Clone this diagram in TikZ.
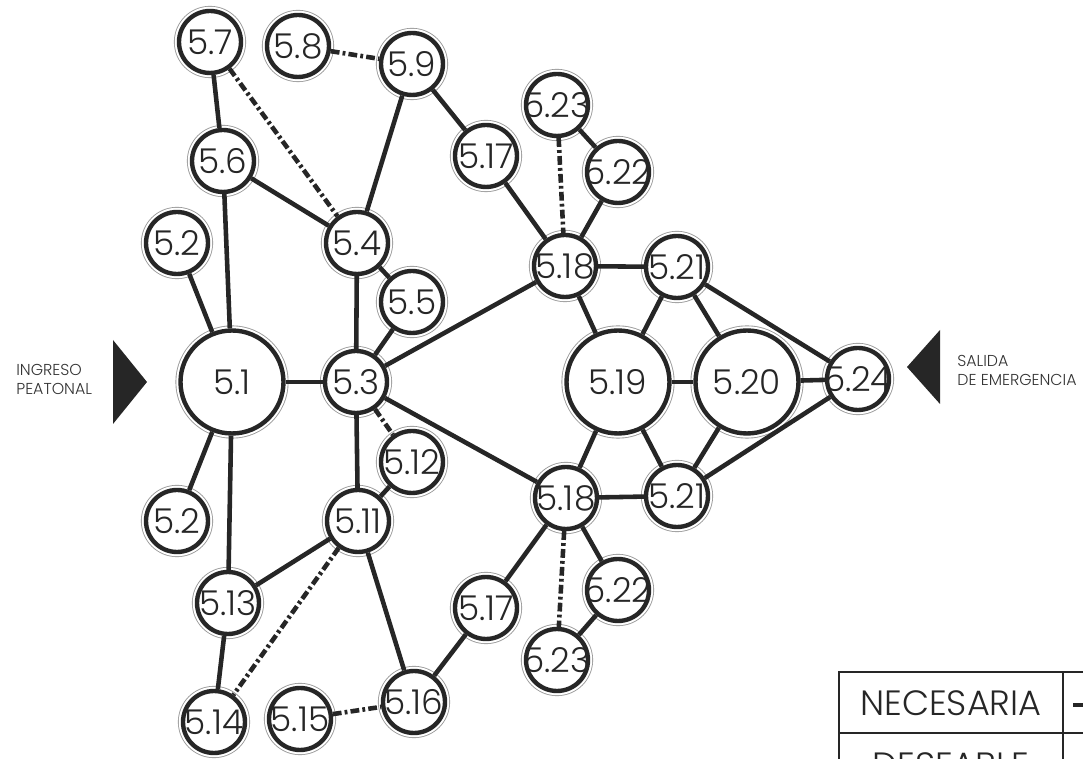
\documentclass[tikz,border=0pt]{standalone}
\usepackage{fontspec}
\setmainfont{Poppins Light}
\usetikzlibrary{positioning}
\tikzset{
  space/.style={circle, draw=black!85, line width=2.5pt, fill=white, inner sep=0pt,
                minimum size=1.24cm, text=black!85, font=\fontsize{19.5}{21}\selectfont,
                preaction={draw=black!40, line width=5.8pt},
                preaction={draw=white, line width=4.8pt}},
  bigspace/.style={space, minimum size=2.06cm},
  link/.style={draw=black!85, line width=2.6pt},
  optlink/.style={link, dash pattern=on 5pt off 1.8pt on 1.6pt off 1.8pt},
  access/.style={align=left, text=black!80, font=\fontsize{9}{10.8}\selectfont, inner sep=0pt},
  legtext/.style={text=black!85, font=\fontsize{20}{22}\selectfont, inner sep=0pt},
}
\newcommand{\zw}[1]{\makebox[0pt]{#1}}

\begin{document}
\begin{tikzpicture}[x=0.02cm, y=-0.02cm]
  \useasboundingbox (0,0) rectangle (1083,759);
  \clip (0,0) rectangle (1083,759);

  % Access arrows
  \fill[black!85] (113,340) -- (147,382) -- (113,424) -- cycle;
  \node[access, anchor=west] (ingreso) at (16,379) {INGRESO\\PEATONAL};
  \fill[black!85] (940,330) -- (907,367) -- (940,404) -- cycle;
  \node[access, anchor=west] (salida) at (957,370) {SALIDA\\DE EMERGENCIA};

  % Left group
  \node[bigspace] (n51) at (232,382) {\zw{5.1}};
  \node[space] (n52a) at (177,243) {\zw{5.2}};
  \node[space] (n52b) at (177,521) {\zw{5.2}};
  \node[space] (n53) at (356,382) {\zw{5.3}};
  \node[space] (n54) at (357,243) {\zw{5.4}};
  \node[space] (n55) at (412,302) {\zw{5.5}};
  \node[space] (n56) at (223,161) {\zw{5.6}};
  \node[space] (n57) at (210,42) {\zw{5.7}};
  \node[space] (n58) at (298,46) {\zw{5.8}};
  \node[space] (n59) at (412,64) {\zw{5.9}};
  \node[space] (n511) at (358,521) {\zw{5.11}};
  \node[space] (n512) at (412,462) {\zw{5.12}};
  \node[space] (n513) at (228,603) {\zw{5.13}};
  \node[space] (n514) at (214,722) {\zw{5.14}};
  \node[space] (n515) at (300,719) {\zw{5.15}};
  \node[space] (n516) at (414,702) {\zw{5.16}};

  % Right group
  \node[space] (n517a) at (486,156) {\zw{5.17}};
  \node[space] (n517b) at (486,608) {\zw{5.17}};
  \node[space] (n518a) at (565,266) {\zw{5.18}};
  \node[space] (n518b) at (566,498) {\zw{5.18}};
  \node[bigspace] (n519) at (618,382) {\zw{5.19}};
  \node[bigspace] (n520) at (747,382) {\zw{5.20}};
  \node[space] (n521a) at (677,267) {\zw{5.21}};
  \node[space] (n521b) at (677,496) {\zw{5.21}};
  \node[space] (n522a) at (618,172) {\zw{5.22}};
  \node[space] (n522b) at (618,590) {\zw{5.22}};
  \node[space] (n523a) at (557,105) {\zw{5.23}};
  \node[space] (n523b) at (557,660) {\zw{5.23}};
  \node[space] (n524) at (858,379) {\zw{5.24}};

  % Necessary links
  \draw[link] (n57) -- (n56);
  \draw[link] (n56) -- (n51);
  \draw[link] (n56) -- (n54);
  \draw[link] (n59) -- (n54);
  \draw[link] (n59) -- (n517a);
  \draw[link] (n52a) -- (n51);
  \draw[link] (n52b) -- (n51);
  \draw[link] (n51) -- (n53);
  \draw[link] (n54) -- (n53);
  \draw[link] (n54) -- (n55);
  \draw[link] (n55) -- (n53);
  \draw[link] (n53) -- (n518a);
  \draw[link] (n53) -- (n518b);
  \draw[link] (n53) -- (n511);
  \draw[link] (n511) -- (n512);
  \draw[link] (n51) -- (n513);
  \draw[link] (n513) -- (n511);
  \draw[link] (n513) -- (n514);
  \draw[link] (n511) -- (n516);
  \draw[link] (n516) -- (n517b);
  \draw[link] (n517b) -- (n518b);
  \draw[link] (n517a) -- (n518a);
  \draw[link] (n522a) -- (n518a);
  \draw[link] (n523a) -- (n522a);
  \draw[link] (n518a) -- (n521a);
  \draw[link] (n518a) -- (n519);
  \draw[link] (n521a) -- (n519);
  \draw[link] (n521a) -- (n520);
  \draw[link] (n521a) -- (n524);
  \draw[link] (n519) -- (n520);
  \draw[link] (n520) -- (n524);
  \draw[link] (n519) -- (n518b);
  \draw[link] (n519) -- (n521b);
  \draw[link] (n520) -- (n521b);
  \draw[link] (n524) -- (n521b);
  \draw[link] (n518b) -- (n521b);
  \draw[link] (n518b) -- (n522b);
  \draw[link] (n522b) -- (n523b);

  % Desirable links
  \draw[optlink] (n57) -- (n54);
  \draw[optlink] (n58) -- (n59);
  \draw[optlink] (n523a) -- (n518a);
  \draw[optlink] (n53) -- (n512);
  \draw[optlink] (n511) -- (n514);
  \draw[optlink] (n515) -- (n516);
  \draw[optlink] (n518b) -- (n523b);

  % Legend
  \draw[draw=black!85, line width=0.6pt] (839,733) -- (1100,733);
  \draw[draw=black!85, line width=1.3pt] (839,800) -- (839,672) -- (1100,672)
       (1063,672) -- (1063,800);
  \node[legtext] (nec) at (951,703) {NECESARIA};
  \node[legtext] (des) at (951,765) {DESEABLE};
  \coordinate (necs) at (1073,705);
  \coordinate (nece) at (1110,705);
  \draw[link] (necs) -- (nece);
\end{tikzpicture}
\end{document}
